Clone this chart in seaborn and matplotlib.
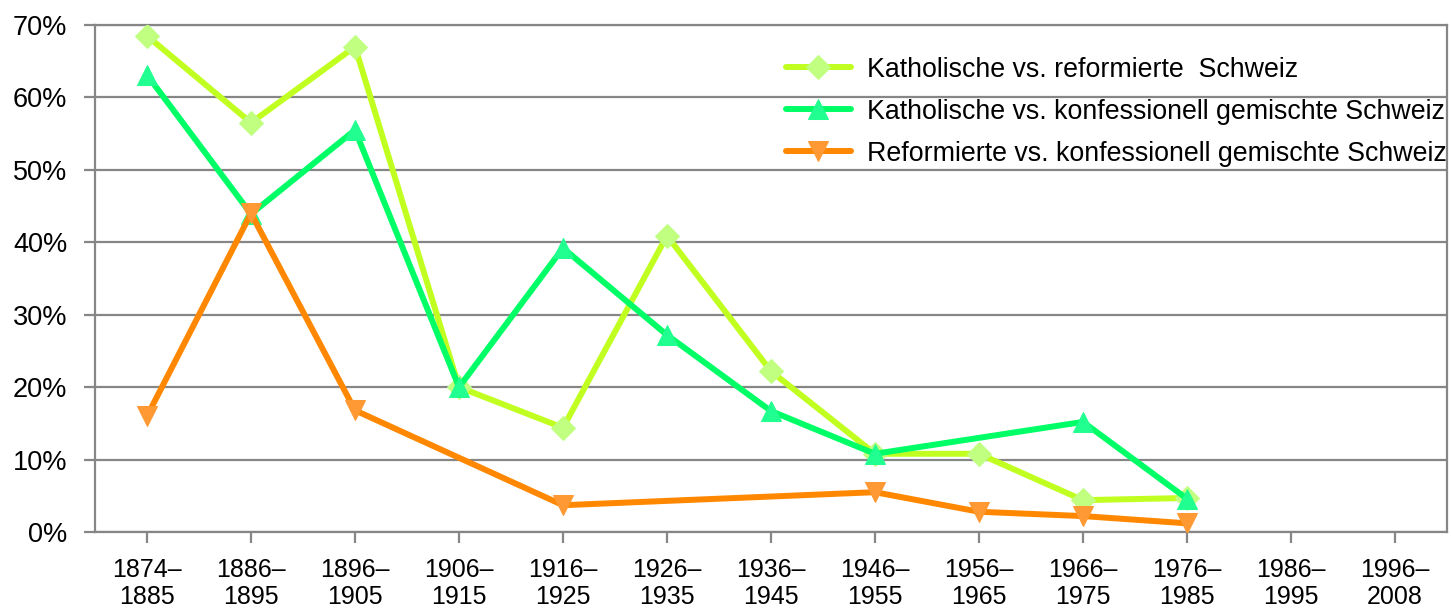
import numpy as np
import pandas as pd
import matplotlib
matplotlib.use("Agg")
import matplotlib.pyplot as plt
import seaborn as sns

periods = ["1874–\n1885", "1886–\n1895", "1896–\n1905", "1906–\n1915", "1916–\n1925",
           "1926–\n1935", "1936–\n1945", "1946–\n1955", "1956–\n1965", "1966–\n1975",
           "1976–\n1985", "1986–\n1995", "1996–\n2008"]

kath_ref = [68.5, 56.5, 67.0, 20.0, 14.4, 40.9, 22.2, 10.8, 10.8, 4.4, 4.7, np.nan, np.nan]
kath_gem = [63.1, 43.9, 55.5, 20.0, 39.2, 27.2, 16.7, 10.8, np.nan, 15.2, 4.6, np.nan, np.nan]
ref_gem = [16.0, 44.0, 16.8, np.nan, 3.7, np.nan, np.nan, 5.5, 2.8, 2.2, 1.2, np.nan, np.nan]

series_names = ["Katholische vs. reformierte  Schweiz",
                "Katholische vs. konfessionell gemischte Schweiz",
                "Reformierte vs. konfessionell gemischte Schweiz"]
line_colors = ["#C0FF20", "#00FF66", "#FF8800"]
marker_colors = ["#C0FF80", "#20FF90", "#FF9933"]
marker_shapes = ["D", "^", "v"]
marker_sizes = [12, 14, 14]


def main():
    sns.set_style("white")
    plt.rcParams['font.family'] = ['Liberation Sans', 'DejaVu Sans']
    plt.rcParams['text.color'] = 'black'

    fig = plt.figure(figsize=(14.51, 6.09), dpi=100)
    ax = fig.add_axes([0.0655, 0.1264, 0.9317, 0.8326])

    x = np.arange(len(periods))
    for name, vals, lc, mc, mk, ms in zip(series_names, [kath_ref, kath_gem, ref_gem],
                                          line_colors, marker_colors, marker_shapes, marker_sizes):
        df = pd.DataFrame({"x": x, "y": vals}).dropna()
        sns.lineplot(data=df, x="x", y="y", ax=ax, color=lc, linewidth=4.3,
                     marker=mk, markersize=ms, markerfacecolor=mc, markeredgecolor=mc,
                     label=name, zorder=3)

    ax.set_xlim(-0.5, len(periods) - 0.5)
    ax.set_ylim(0, 70)
    ax.set_yticks(range(0, 71, 10))
    ax.set_yticklabels([f"{v}%" for v in range(0, 71, 10)], fontsize=19.5, color="black")
    ax.set_xticks(x)
    ax.set_xticklabels(periods, fontsize=18, linespacing=1.15, color="black")
    ax.set_xlabel("")
    ax.set_ylabel("")

    ax.grid(axis="y", color="#868686", linewidth=1.6)
    ax.set_axisbelow(True)
    for sp in ax.spines.values():
        sp.set_color("#868686")
        sp.set_linewidth(1.6)
    ax.tick_params(axis="both", which="both", length=8, width=1.6, color="#868686",
                   direction="out", left=True, bottom=True)
    ax.tick_params(axis="y", pad=12)
    ax.tick_params(axis="x", pad=11)

    leg = ax.legend(loc="upper left", bbox_to_anchor=(0.4935, 0.985), frameon=False,
                    fontsize=19.3, handlelength=2.4, labelspacing=0.6, handletextpad=0.6)
    for t in leg.get_texts():
        t.set_color("black")

    plt.savefig("out.png", dpi=100)


if __name__ == "__main__":
    main()
